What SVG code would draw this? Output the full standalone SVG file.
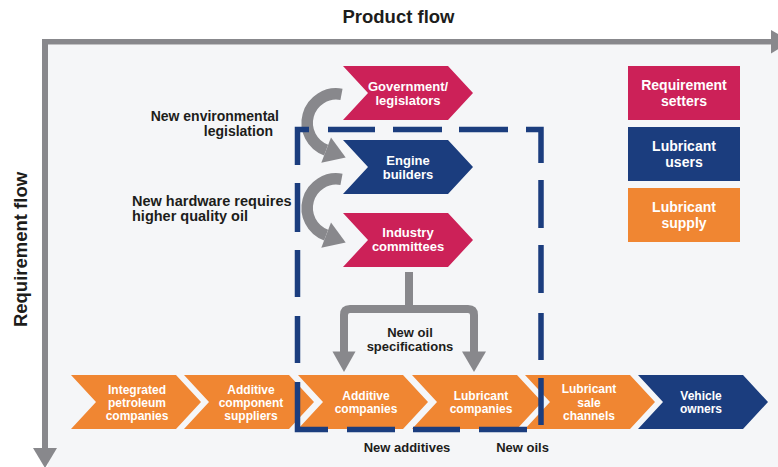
<svg xmlns="http://www.w3.org/2000/svg" width="778" height="467" viewBox="0 0 778 467">
  <style>
    .t { font-family: "Liberation Sans", Arial, sans-serif; font-weight: bold; }
    .in { fill: #ffffff; text-anchor: middle; }
    .lbl { fill: #1d1d1b; }
    .crimson { fill: #cc2158; }
    .navy { fill: #1b3d7e; }
    .orange { fill: #f08632; }
    .gray-line { fill: none; stroke: #88888c; }
    .gray-fill { fill: #88888c; }
    .dash { fill: none; stroke: #1b3d7e; stroke-width: 5.5; stroke-linecap: butt; stroke-linejoin: miter; }
  </style>

  <!-- panel -->
  <rect x="0" y="0" width="778" height="467" fill="#ffffff"/>
  <rect x="48" y="44.5" width="730" height="423" fill="#f5f6f8"/>

  <!-- axes -->
  <g id="axes">
    <path class="gray-line" d="M42,41.7 H772" stroke-width="5.5"/>
    <polygon class="gray-fill" points="771,30 791,41.7 771,53.5"/>
    <path class="gray-line" d="M45,39 V449" stroke-width="6"/>
    <polygon class="gray-fill" points="33,448 57,448 45,468"/>
    <text class="t lbl" x="398.5" y="22.7" font-size="18.5" text-anchor="middle">Product flow</text>
    <text class="t lbl" font-size="18.5" text-anchor="middle" transform="translate(26.7,249.5) rotate(-90)">Requirement flow</text>
  </g>

  <!-- legend -->
  <g id="legend-requirement-setters">
    <rect class="crimson" x="628" y="66" width="112" height="54"/>
    <text class="t in" x="684" y="89.5" font-size="14">Requirement</text>
    <text class="t in" x="684" y="106" font-size="14">setters</text>
  </g>
  <g id="legend-lubricant-users">
    <rect class="navy" x="628" y="127" width="112" height="54"/>
    <text class="t in" x="684" y="150.5" font-size="14">Lubricant</text>
    <text class="t in" x="684" y="167" font-size="14">users</text>
  </g>
  <g id="legend-lubricant-supply">
    <rect class="orange" x="628" y="188" width="112" height="54"/>
    <text class="t in" x="684" y="211.5" font-size="14">Lubricant</text>
    <text class="t in" x="684" y="228" font-size="14">supply</text>
  </g>

  <!-- requirement chain -->
  <g id="government">
    <polygon class="crimson" points="343,66 448,66 473,93 448,120 343,120 368,93"/>
    <text class="t in" x="408" y="90.8" font-size="13">Government/</text>
    <text class="t in" x="408" y="104.6" font-size="13">legislators</text>
  </g>
  <g id="engine-builders">
    <polygon class="navy" points="343,140 448,140 473,167 448,194 343,194 368,167"/>
    <text class="t in" x="408" y="165" font-size="13">Engine</text>
    <text class="t in" x="408" y="178.8" font-size="13">builders</text>
  </g>
  <g id="industry-committees">
    <polygon class="crimson" points="343,213 448,213 473,240 448,267 343,267 368,240"/>
    <text class="t in" x="408" y="237" font-size="13">Industry</text>
    <text class="t in" x="408" y="250.8" font-size="13">committees</text>
  </g>

  <!-- supply chain -->
  <g id="integrated-petroleum">
    <polygon class="orange" points="71,375 176,375 201,402 176,429 71,429 96,402"/>
    <text class="t in" x="137" y="393.5" font-size="12">Integrated</text>
    <text class="t in" x="137" y="406.5" font-size="12">petroleum</text>
    <text class="t in" x="137" y="419.5" font-size="12">companies</text>
  </g>
  <g id="additive-suppliers">
    <polygon class="orange" points="184,375 289,375 314,402 289,429 184,429 209,402"/>
    <text class="t in" x="251" y="394" font-size="12">Additive</text>
    <text class="t in" x="251" y="406.5" font-size="12">component</text>
    <text class="t in" x="251" y="419.5" font-size="12">suppliers</text>
  </g>
  <g id="additive-companies">
    <polygon class="orange" points="298,375 403,375 428,402 403,429 298,429 323,402"/>
    <text class="t in" x="366" y="400" font-size="12">Additive</text>
    <text class="t in" x="366" y="413" font-size="12">companies</text>
  </g>
  <g id="lubricant-companies">
    <polygon class="orange" points="412,375 517,375 542,402 517,429 412,429 437,402"/>
    <text class="t in" x="481" y="400" font-size="12">Lubricant</text>
    <text class="t in" x="481" y="413" font-size="12">companies</text>
  </g>
  <g id="sale-channels">
    <polygon class="orange" points="525,375 630,375 655,402 630,429 525,429 550,402"/>
    <text class="t in" x="589" y="393" font-size="12">Lubricant</text>
    <text class="t in" x="589" y="406.5" font-size="12">sale</text>
    <text class="t in" x="589" y="419.5" font-size="12">channels</text>
  </g>
  <g id="vehicle-owners">
    <polygon class="navy" points="638,375 743,375 768,402 743,429 638,429 663,402"/>
    <text class="t in" x="701" y="399.5" font-size="12">Vehicle</text>
    <text class="t in" x="701" y="413" font-size="12">owners</text>
  </g>

  <!-- connectors -->
  <g id="connectors">
    <g id="curve-legislation">
      <path class="gray-line" stroke-width="11.5" d="M341.5,94.4 A29,29 0 0 0 326.1,150.1"/>
      <polygon class="gray-fill" points="331,137.5 345.7,157.6 321.3,162.7"/>
    </g>
    <g id="curve-hardware" transform="translate(0,85)">
      <path class="gray-line" stroke-width="11.5" d="M341.5,94.4 A29,29 0 0 0 326.1,150.1"/>
      <polygon class="gray-fill" points="331,137.5 345.7,157.6 321.3,162.7"/>
    </g>
    <g id="split-specifications">
      <path class="gray-line" stroke-width="8" d="M409,272 V310"/>
      <path class="gray-line" stroke-width="8" d="M344,352 V315 Q344,309 350,309 H468 Q474,309 474,315 V352"/>
      <polygon class="gray-fill" points="332.5,351.5 355.5,351.5 344,372"/>
      <polygon class="gray-fill" points="462,351.5 486,351.5 474,372"/>
    </g>
    <!-- dashed boundary of the lubricant-making group -->
    <path class="dash" d="M297.5,165 V129.5 H309 M328,129.5 H375 M393,129.5 H442 M459,129.5 H508 M526,129.5 H541 V163 M541,180 V228 M541,245 V293 M541,313 V360 M541,378 V425 M527,429.5 H479 M460,429.5 H413 M395,429.5 H347 M328,429.5 H297.5 V382 M297.5,363 V316 M297.5,297 V250 M297.5,232 V183"/>
  </g>

  <!-- flow labels -->
  <g id="labels">
    <text class="t lbl" x="279" y="120.8" font-size="14" text-anchor="end">New environmental</text>
    <text class="t lbl" x="273" y="135.8" font-size="14" text-anchor="end">legislation</text>
    <text class="t lbl" x="132" y="206.2" font-size="14.5">New hardware requires</text>
    <text class="t lbl" x="132" y="221" font-size="14.5">higher quality oil</text>
    <text class="t lbl" x="410" y="336.5" font-size="13" text-anchor="middle">New oil</text>
    <text class="t lbl" x="410" y="350.6" font-size="13" text-anchor="middle">specifications</text>
    <text class="t lbl" x="407" y="451.7" font-size="13" text-anchor="middle">New additives</text>
    <text class="t lbl" x="522.5" y="451.7" font-size="13" text-anchor="middle">New oils</text>
  </g>
</svg>
